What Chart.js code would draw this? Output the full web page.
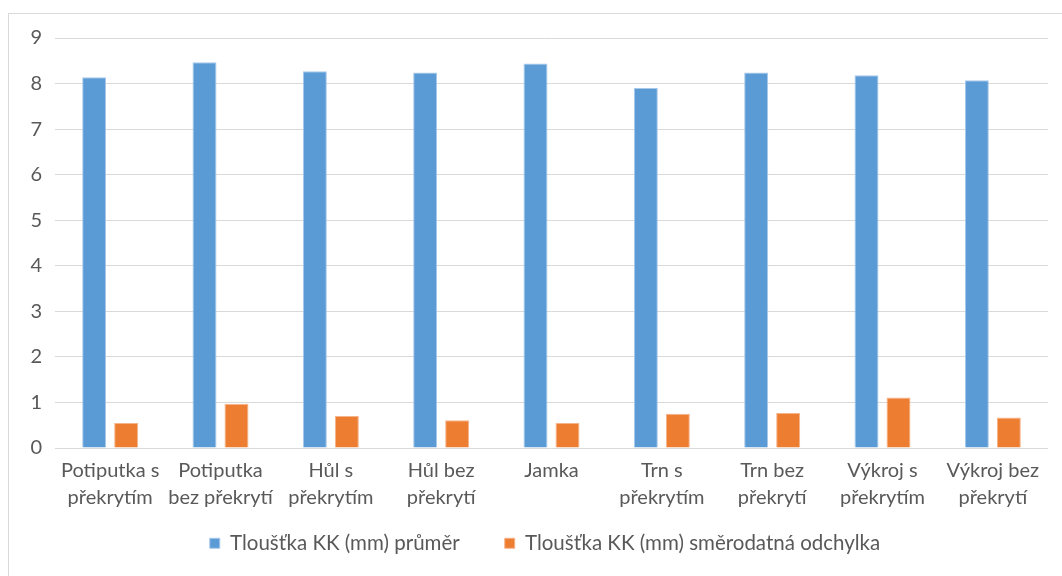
<!DOCTYPE html>
<html>
<head>
<meta charset="utf-8">
<script src="https://cdn.jsdelivr.net/npm/chart.js@4/dist/chart.umd.min.js"></script>
<style>
html,body{margin:0;padding:0;background:#fff;}
#wrap{position:relative;width:1062px;height:576px;}
</style>
</head>
<body>
<div id="wrap"><canvas id="c" width="1062" height="576"></canvas></div>
<script>
const categories = [
  ["Potiputka s","překrytím"],
  ["Potiputka","bez překrytí"],
  ["Hůl s","překrytím"],
  ["Hůl bez","překrytí"],
  "Jamka",
  ["Trn s","překrytím"],
  ["Trn bez","překrytí"],
  ["Výkroj s","překrytím"],
  ["Výkroj bez","překrytí"]
];
const seriesNames = ["Tloušťka KK (mm) průměr", "Tloušťka KK (mm) směrodatná odchylka"];
const meanValues = [8.14, 8.47, 8.27, 8.24, 8.44, 7.90, 8.24, 8.18, 8.07];
const sdValues   = [0.55, 0.97, 0.70, 0.61, 0.55, 0.75, 0.77, 1.11, 0.67];
const yTicks = [0,1,2,3,4,5,6,7,8,9];

const FONT = "Lato";
const LEGEND_H = 58;
const LEGEND_SHIFT = 30;
const LEGEND_XSHIFT = 17;

const frame = {
  id: 'frame',
  afterInit(chart){
    const lg = chart.legend;
    if (lg && !lg._patched) {
      const origFit = lg.fit.bind(lg);
      lg.fit = function(){ origFit(); this.height = LEGEND_H; };
      const origDraw = lg.draw.bind(lg);
      lg.draw = function(){
        const t = this.top, l = this.left, r = this.right;
        this.top = t - LEGEND_SHIFT;
        this.left = l + LEGEND_XSHIFT; this.right = r + LEGEND_XSHIFT;
        origDraw();
        this.top = t; this.left = l; this.right = r;
      };
      lg._patched = true;
    }
  },
  beforeDraw(chart){
    const ctx = chart.ctx;
    ctx.save();
    ctx.fillStyle = '#fff';
    ctx.fillRect(0,0,chart.width,chart.height);
    ctx.strokeStyle = '#d9d9d9';
    ctx.lineWidth = 1;
    ctx.strokeRect(8.5, 13.5, 1200, 700);
    ctx.restore();
  }
};

new Chart(document.getElementById('c'), {
  type: 'bar',
  data: {
    labels: categories,
    datasets: [
      {label: seriesNames[0], data: meanValues, backgroundColor: '#5B9BD5', borderColor: '#A9C8EA', borderWidth: 1,
       categoryPercentage: 0.58, barPercentage: 0.75},
      {label: seriesNames[1], data: sdValues, backgroundColor: '#ED7D31', borderColor: '#F5B48A', borderWidth: 1,
       categoryPercentage: 0.58, barPercentage: 0.75}
    ]
  },
  options: {
    responsive: false,
    animation: false,
    layout: {padding: {left: 8, right: 14, top: 38, bottom: 0}},
    plugins: {
      legend: {
        position: 'bottom',
        labels: {
          font: {family: FONT, size: 20.5},
          color: '#595959',
          boxWidth: 10, boxHeight: 10,
          padding: 45
        }
      },
      tooltip: {enabled: false}
    },
    scales: {
      x: {
        afterFit(axis){ axis.height = 70; },
        grid: {display: false, drawTicks: false, tickLength: 0},
        border: {display: false},
        ticks: {
          font: {family: FONT, size: 20, lineHeight: 1.35},
          color: '#595959',
          maxRotation: 0, autoSkip: false,
          padding: 9
        }
      },
      y: {
        min: 0, max: 9,
        afterBuildTicks(axis){ axis.ticks = yTicks.map(v => ({value: v})); },
        afterFit(axis){ axis.width = 47; },
        grid: {color: '#d9d9d9', lineWidth: 1, drawTicks: false},
        border: {display: false},
        ticks: {
          font: {family: FONT, size: 20},
          color: '#595959',
          padding: 13
        }
      }
    }
  },
  plugins: [frame]
});
</script>
</body>
</html>
